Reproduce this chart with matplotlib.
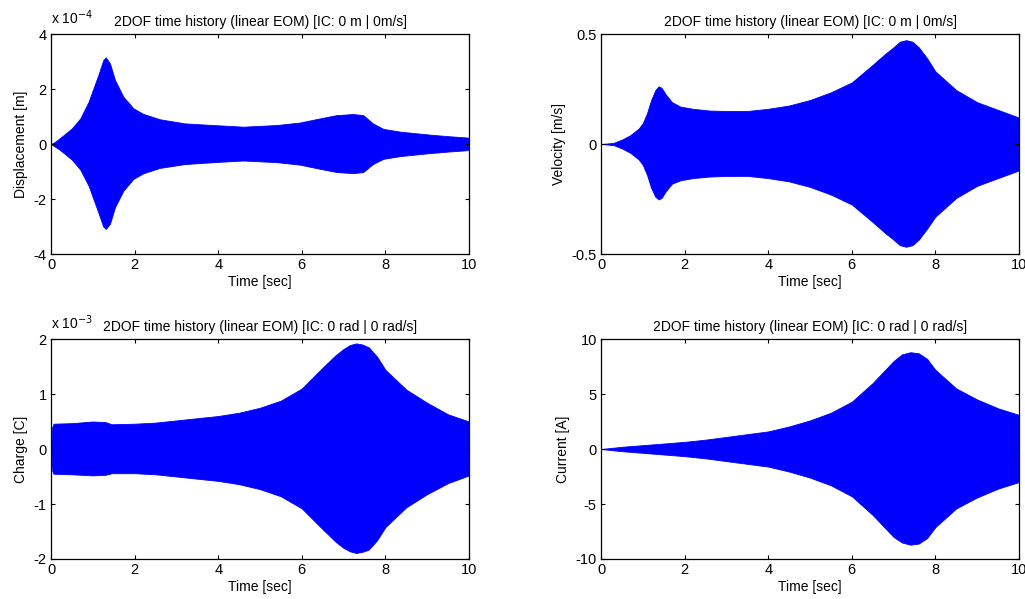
import numpy as np
import matplotlib.pyplot as plt

# envelope readings (time [s], upper amplitude, lower amplitude)
# displacement in units of 1e-4 m
t_disp = [0, 0.1, 0.2, 0.3, 0.5, 0.7, 0.9, 1.0, 1.13, 1.25, 1.31, 1.41, 1.53, 1.73, 1.97, 2.2, 2.6,
          3.2, 4.0, 4.6, 5.4, 5.95, 6.43, 6.83, 7.23, 7.47, 7.7, 7.95, 8.35, 9.0, 9.46, 10.0]
disp_up = [0, 0.08, 0.2, 0.32, 0.57, 0.93, 1.54, 1.96, 2.5, 3.05, 3.15, 2.93, 2.33, 1.72, 1.3, 1.1, 0.9,
           0.75, 0.68, 0.63, 0.69, 0.78, 0.93, 1.05, 1.09, 1.05, 0.75, 0.55, 0.45, 0.35, 0.29, 0.23]
disp_lo = [0, -0.1, -0.2, -0.32, -0.57, -0.93, -1.52, -1.94, -2.48, -3.0, -3.09, -2.9, -2.3, -1.7, -1.27, -1.07, -0.87,
           -0.73, -0.65, -0.6, -0.66, -0.75, -0.9, -1.02, -1.06, -1.02, -0.73, -0.54, -0.44, -0.34, -0.28, -0.22]

# velocity in m/s
t_vel = [0, 0.3, 0.5, 0.7, 0.9, 1.0, 1.1, 1.2, 1.3, 1.38, 1.45, 1.55, 1.7, 1.9, 2.2, 2.6, 3.0, 3.5,
         4.0, 4.5, 5.0, 5.5, 6.0, 6.5, 6.8, 7.0, 7.15, 7.3, 7.45, 7.6, 7.8, 8.0, 8.5, 9.0, 9.5, 10.0]
vel_up = [0, 0.005, 0.02, 0.04, 0.07, 0.095, 0.14, 0.2, 0.245, 0.262, 0.255, 0.225, 0.19, 0.17, 0.16, 0.152, 0.15, 0.15,
          0.16, 0.175, 0.2, 0.235, 0.28, 0.36, 0.41, 0.44, 0.465, 0.472, 0.465, 0.44, 0.39, 0.33, 0.245, 0.19, 0.155, 0.12]
vel_lo = [0, -0.005, -0.02, -0.04, -0.07, -0.095, -0.14, -0.2, -0.24, -0.252, -0.245, -0.215, -0.18, -0.165, -0.155, -0.148, -0.145, -0.145,
          -0.155, -0.17, -0.195, -0.23, -0.275, -0.355, -0.405, -0.435, -0.46, -0.467, -0.46, -0.435, -0.385, -0.33, -0.245, -0.19, -0.155, -0.12]

# charge in units of 1e-3 C
t_chg = [0, 0.03, 0.06, 0.5, 1.0, 1.3, 1.45, 2.0, 2.5, 3.0, 3.5, 4.0, 4.5, 5.0, 5.5, 6.0, 6.5,
         6.8, 7.0, 7.15, 7.3, 7.45, 7.6, 7.8, 8.0, 8.5, 9.0, 9.5, 10.0]
chg_up = [0, 0.4, 0.46, 0.47, 0.5, 0.49, 0.45, 0.46, 0.48, 0.52, 0.56, 0.6, 0.66, 0.75, 0.88, 1.1, 1.48,
          1.7, 1.82, 1.89, 1.92, 1.9, 1.85, 1.68, 1.44, 1.08, 0.84, 0.63, 0.5]
chg_lo = [0, -0.4, -0.45, -0.46, -0.48, -0.47, -0.44, -0.44, -0.46, -0.5, -0.54, -0.58, -0.64, -0.73, -0.86, -1.08, -1.46,
          -1.68, -1.8, -1.86, -1.89, -1.87, -1.83, -1.66, -1.42, -1.06, -0.82, -0.62, -0.48]

# current in A
t_cur = [0, 0.5, 1.0, 1.5, 2.0, 2.5, 3.0, 3.5, 4.0, 4.5, 5.0, 5.5, 6.0, 6.5, 6.8, 7.0, 7.2, 7.4, 7.6, 7.8,
         8.0, 8.5, 9.0, 9.5, 10.0]
cur_up = [0, 0.2, 0.35, 0.5, 0.65, 0.85, 1.1, 1.35, 1.6, 2.05, 2.6, 3.3, 4.3, 6.0, 7.2, 8.0, 8.6, 8.8, 8.7, 8.2,
          7.2, 5.5, 4.5, 3.7, 3.1]
cur_lo = [0, -0.2, -0.35, -0.5, -0.65, -0.85, -1.1, -1.35, -1.6, -2.05, -2.6, -3.3, -4.3, -6.0, -7.2, -8.0, -8.5, -8.7, -8.6, -8.1,
          -7.1, -5.4, -4.4, -3.6, -3.0]

title_top = "2DOF time history (linear EOM) [IC: 0 m | 0m/s]"
title_bot = "2DOF time history (linear EOM) [IC: 0 rad | 0 rad/s]"

panels = [
    (t_disp, disp_up, disp_lo, "Displacement [m]", title_top, (-4, 4), [-4, -2, 0, 2, 4], "-4"),
    (t_vel, vel_up, vel_lo, "Velocity [m/s]", title_top, (-0.5, 0.5), [-0.5, 0, 0.5], None),
    (t_chg, chg_up, chg_lo, "Charge [C]", title_bot, (-2, 2), [-2, -1, 0, 1, 2], "-3"),
    (t_cur, cur_up, cur_lo, "Current [A]", title_bot, (-10, 10), [-10, -5, 0, 5, 10], None),
]

plt.rcParams["font.family"] = ["Liberation Sans", "DejaVu Sans"]
plt.rcParams["font.size"] = 10

fig = plt.figure(figsize=(10.25, 5.99), dpi=100)
W, H = 1025, 599
rects = [(51, 34), (601, 34), (51, 339), (601, 339)]

for (t, up, lo, ylab, title, ylim, yticks, expo), (x0, y0) in zip(panels, rects):
    ax = fig.add_axes([x0 / W, 1 - (y0 + 220) / H, 418 / W, 220 / H])
    ax.fill_between(t, lo, up, color="#0000ff", linewidth=0.6, edgecolor="#0000ff")
    ax.set_xlim(0, 10)
    ax.set_ylim(*ylim)
    ax.set_xticks([0, 2, 4, 6, 8, 10])
    ax.set_yticks(yticks)
    ax.set_yticklabels([f"{v:g}" for v in yticks])
    ax.tick_params(direction="in", length=3, top=True, right=True, labelsize=10.5, pad=3, width=0.8)
    for s in ax.spines.values():
        s.set_linewidth(0.9)
    ax.set_xlabel("Time [sec]", fontsize=10, labelpad=2)
    ax.set_ylabel(ylab, fontsize=10, labelpad=4)
    ax.set_title(title, fontsize=10, pad=6)
    if expo:
        ax.text(0, 1.03, r"x 10$^{" + expo + "}$", transform=ax.transAxes,
                fontsize=10, ha="left", va="bottom")

fig.savefig("out.png", dpi=100)
